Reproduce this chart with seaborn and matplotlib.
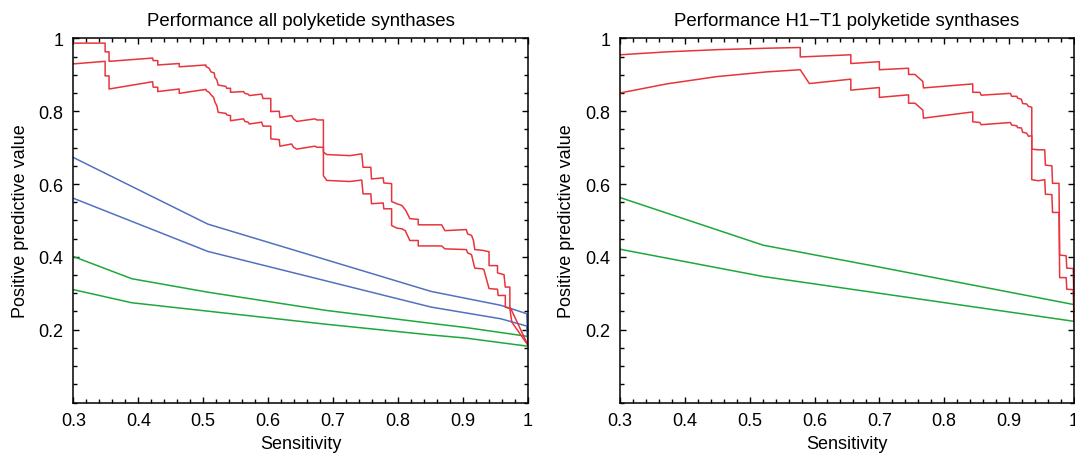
import numpy as np
import pandas as pd
import matplotlib
matplotlib.use("Agg")
import matplotlib.pyplot as plt
import seaborn as sns
from matplotlib.ticker import MultipleLocator, FixedLocator

# ---- Performance, all polyketide synthases ----
# confidence band (upper / lower) of the precision curve of the method
all_red_hi_x = [0.300, 0.349, 0.349, 0.355, 0.355, 0.422, 0.423, 0.430, 0.430, 0.463, 0.463,
                0.504, 0.504, 0.509, 0.512, 0.517, 0.518, 0.521, 0.523, 0.535, 0.536, 0.542,
                0.542, 0.562, 0.564, 0.569, 0.571, 0.590, 0.592, 0.604, 0.604, 0.617, 0.618,
                0.636, 0.639, 0.644, 0.672, 0.675, 0.685, 0.685, 0.690, 0.726, 0.744, 0.746,
                0.758, 0.759, 0.777, 0.778, 0.790, 0.790, 0.798, 0.806, 0.812, 0.818, 0.831,
                0.831, 0.867, 0.872, 0.905, 0.907, 0.913, 0.916, 0.918, 0.930, 0.940, 0.940,
                0.953, 0.953, 0.963, 0.965, 0.972, 0.972, 0.975, 1.000]
all_red_hi_y = [0.987, 0.987, 0.963, 0.963, 0.937, 0.946, 0.939, 0.939, 0.927, 0.931, 0.922,
                0.927, 0.923, 0.918, 0.908, 0.905, 0.893, 0.886, 0.872, 0.868, 0.863, 0.863,
                0.852, 0.854, 0.849, 0.847, 0.843, 0.847, 0.835, 0.835, 0.799, 0.800, 0.783,
                0.788, 0.779, 0.772, 0.779, 0.776, 0.776, 0.688, 0.681, 0.678, 0.683, 0.646,
                0.646, 0.614, 0.617, 0.603, 0.601, 0.552, 0.546, 0.541, 0.527, 0.505, 0.503,
                0.488, 0.488, 0.472, 0.475, 0.463, 0.459, 0.445, 0.420, 0.418, 0.414, 0.376,
                0.376, 0.356, 0.351, 0.317, 0.317, 0.262, 0.252, 0.157]
all_red_lo_x = [0.300, 0.349, 0.349, 0.355, 0.355, 0.422, 0.423, 0.430, 0.430, 0.463, 0.463,
                0.504, 0.505, 0.509, 0.512, 0.516, 0.518, 0.521, 0.523, 0.535, 0.536, 0.542,
                0.542, 0.562, 0.564, 0.569, 0.571, 0.590, 0.592, 0.604, 0.604, 0.617, 0.618,
                0.636, 0.639, 0.644, 0.672, 0.675, 0.685, 0.685, 0.690, 0.726, 0.744, 0.746,
                0.758, 0.759, 0.777, 0.778, 0.790, 0.790, 0.798, 0.806, 0.811, 0.818, 0.831,
                0.831, 0.867, 0.872, 0.905, 0.907, 0.913, 0.918, 0.930, 0.932, 0.940, 0.953,
                0.954, 0.965, 0.965, 0.972, 0.975, 1.000]
all_red_lo_y = [0.930, 0.937, 0.897, 0.897, 0.861, 0.881, 0.866, 0.866, 0.854, 0.861, 0.849,
                0.860, 0.856, 0.852, 0.845, 0.838, 0.825, 0.815, 0.797, 0.794, 0.790, 0.788,
                0.774, 0.779, 0.772, 0.770, 0.765, 0.770, 0.759, 0.759, 0.724, 0.722, 0.704,
                0.710, 0.701, 0.696, 0.704, 0.701, 0.701, 0.623, 0.610, 0.607, 0.611, 0.573,
                0.573, 0.546, 0.548, 0.532, 0.532, 0.486, 0.479, 0.477, 0.472, 0.445, 0.445,
                0.430, 0.430, 0.422, 0.420, 0.411, 0.406, 0.369, 0.367, 0.365, 0.313, 0.311,
                0.294, 0.294, 0.262, 0.258, 0.221, 0.157]

# comparison methods (blue and green bands)
all_blue_hi_x = [0.300, 0.507, 0.851, 0.958, 0.998, 1.000]
all_blue_hi_y = [0.673, 0.490, 0.305, 0.267, 0.244, 0.157]
all_blue_lo_x = [0.300, 0.507, 0.851, 0.958, 0.998, 1.000]
all_blue_lo_y = [0.561, 0.415, 0.262, 0.230, 0.210, 0.157]
all_green_hi_x = [0.300, 0.390, 0.507, 0.689, 0.848, 0.904, 0.998]
all_green_hi_y = [0.401, 0.340, 0.303, 0.253, 0.218, 0.206, 0.182]
all_green_lo_x = [0.300, 0.390, 0.689, 0.848, 0.904, 0.998]
all_green_lo_y = [0.310, 0.274, 0.215, 0.186, 0.177, 0.155]

# ---- Performance, H1-T1 polyketide synthases ----
h1_red_hi_x = [0.300, 0.372, 0.449, 0.526, 0.578, 0.578, 0.656, 0.656, 0.700, 0.700, 0.745,
               0.745, 0.755, 0.763, 0.767, 0.768, 0.844, 0.844, 0.855, 0.857, 0.902, 0.904,
               0.912, 0.913, 0.919, 0.921, 0.927, 0.930, 0.935, 0.935, 0.945, 0.955, 0.956,
               0.966, 0.967, 0.977, 0.978, 0.988, 0.989, 0.999, 1.000]
h1_red_hi_y = [0.955, 0.963, 0.969, 0.973, 0.975, 0.949, 0.955, 0.931, 0.936, 0.914, 0.918,
               0.901, 0.901, 0.888, 0.882, 0.864, 0.875, 0.852, 0.852, 0.844, 0.849, 0.841,
               0.841, 0.836, 0.833, 0.821, 0.820, 0.813, 0.811, 0.696, 0.694, 0.694, 0.652,
               0.650, 0.602, 0.602, 0.405, 0.403, 0.369, 0.368, 0.266]
h1_red_lo_x = [0.300, 0.372, 0.449, 0.526, 0.578, 0.592, 0.656, 0.656, 0.700, 0.700, 0.745,
               0.745, 0.755, 0.767, 0.768, 0.844, 0.844, 0.855, 0.857, 0.902, 0.904, 0.912,
               0.913, 0.919, 0.921, 0.927, 0.930, 0.935, 0.935, 0.945, 0.955, 0.956, 0.966,
               0.967, 0.977, 0.978, 0.988, 0.989, 0.999, 1.000]
h1_red_lo_y = [0.850, 0.875, 0.895, 0.908, 0.914, 0.876, 0.888, 0.858, 0.865, 0.838, 0.845,
               0.822, 0.822, 0.803, 0.781, 0.798, 0.771, 0.769, 0.763, 0.769, 0.762, 0.760,
               0.755, 0.754, 0.742, 0.740, 0.731, 0.733, 0.612, 0.609, 0.612, 0.572, 0.571,
               0.522, 0.522, 0.343, 0.343, 0.311, 0.310, 0.224]
h1_green_hi_x = [0.300, 0.521, 0.700, 1.000]
h1_green_hi_y = [0.563, 0.432, 0.372, 0.269]
h1_green_lo_x = [0.300, 0.521, 1.000]
h1_green_lo_y = [0.421, 0.346, 0.223]

x_ticks = [0.3, 0.4, 0.5, 0.6, 0.7, 0.8, 0.9, 1.0]
x_tick_labels = ["0.3", "0.4", "0.5", "0.6", "0.7", "0.8", "0.9", "1"]
y_ticks = [0.2, 0.4, 0.6, 0.8, 1.0]
y_tick_labels = ["0.2", "0.4", "0.6", "0.8", "1"]
titles = ["Performance all polyketide synthases",
          "Performance H1\u2212T1 polyketide synthases"]

RED = "#e8343c"
BLUE = "#5172bf"
GREEN = "#1ea83c"

sns.set_theme(style="white")
plt.rcParams["font.family"] = ["Liberation Sans", "DejaVu Sans"]
plt.rcParams["axes.linewidth"] = 1.1
plt.rcParams["text.color"] = "black"
plt.rcParams["axes.labelcolor"] = "black"
plt.rcParams["xtick.color"] = "black"
plt.rcParams["ytick.color"] = "black"

fig = plt.figure(figsize=(10.75, 4.56), dpi=100)
ax1 = fig.add_axes([0.0682, 0.1151, 0.4230, 0.7985])
ax2 = fig.add_axes([0.5767, 0.1151, 0.4223, 0.7985])


def draw(ax, x, y, color):
    df = pd.DataFrame({"Sensitivity": x, "PPV": y})
    sns.lineplot(data=df, x="Sensitivity", y="PPV", sort=False, estimator=None,
                 color=color, linewidth=1.1, ax=ax)


for xs, ys, c in [(all_green_lo_x, all_green_lo_y, GREEN),
                  (all_green_hi_x, all_green_hi_y, GREEN),
                  (all_blue_lo_x, all_blue_lo_y, BLUE),
                  (all_blue_hi_x, all_blue_hi_y, BLUE),
                  (all_red_lo_x, all_red_lo_y, RED),
                  (all_red_hi_x, all_red_hi_y, RED)]:
    draw(ax1, xs, ys, c)

for xs, ys, c in [(h1_green_lo_x, h1_green_lo_y, GREEN),
                  (h1_green_hi_x, h1_green_hi_y, GREEN),
                  (h1_red_lo_x, h1_red_lo_y, RED),
                  (h1_red_hi_x, h1_red_hi_y, RED)]:
    draw(ax2, xs, ys, c)

for ax, title in zip([ax1, ax2], titles):
    ax.set_xlim(0.3, 1.0)
    ax.set_ylim(0.0, 1.0)
    ax.xaxis.set_major_locator(FixedLocator(x_ticks))
    ax.set_xticklabels(x_tick_labels)
    ax.yaxis.set_major_locator(FixedLocator(y_ticks))
    ax.set_yticklabels(y_tick_labels)
    ax.xaxis.set_minor_locator(MultipleLocator(0.02))
    ax.yaxis.set_minor_locator(MultipleLocator(0.05))
    ax.tick_params(which="both", direction="in", top=True, right=True,
                   bottom=True, left=True, color="black", width=1.0)
    ax.tick_params(which="major", length=4.5, labelsize=13, pad=7)
    ax.tick_params(which="minor", length=3)
    for s in ax.spines.values():
        s.set_color("black")
        s.set_linewidth(1.1)
    ax.set_xlabel("Sensitivity", fontsize=13, labelpad=4)
    ax.set_ylabel("Positive predictive value", fontsize=13, labelpad=7)
    ax.set_title(title, fontsize=13.4, pad=10)

fig.savefig("out.png", dpi=100)
